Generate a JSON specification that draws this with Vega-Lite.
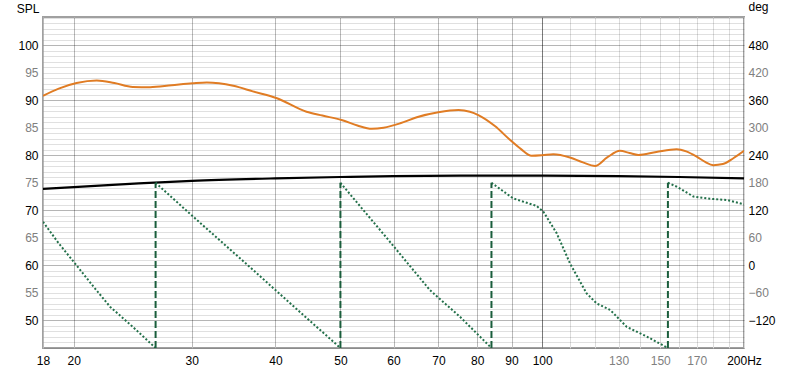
{
  "$schema": "https://vega.github.io/schema/vega-lite/v6.json",
  "width": 701,
  "height": 331,
  "autosize": {"type": "none"},
  "padding": {"left": 43, "top": 17, "right": 56, "bottom": 24},
  "background": "white",
  "config": {
    "view": {"stroke": "#a0a0a0", "strokeWidth": 2},
    "axis": {"labelFont": "Liberation Sans", "titleFont": "Liberation Sans", "labelFontSize": 12, "titleFontSize": 12, "titleFontWeight": "normal", "titleColor": "#000"}
  },
  "datasets": {
    "spl": [
      {"s": "spl", "f": 18, "db": 90.8}, {"s": "spl", "f": 19, "db": 92.1}, {"s": "spl", "f": 20.2, "db": 93.1},
      {"s": "spl", "f": 21.65, "db": 93.55}, {"s": "spl", "f": 23, "db": 93.1}, {"s": "spl", "f": 24.5, "db": 92.4},
      {"s": "spl", "f": 26, "db": 92.35}, {"s": "spl", "f": 28, "db": 92.7}, {"s": "spl", "f": 30.1, "db": 93.05},
      {"s": "spl", "f": 31.6, "db": 93.2}, {"s": "spl", "f": 34.6, "db": 92.6}, {"s": "spl", "f": 37, "db": 91.6},
      {"s": "spl", "f": 40.2, "db": 90.35}, {"s": "spl", "f": 44.5, "db": 87.9}, {"s": "spl", "f": 47, "db": 87.2},
      {"s": "spl", "f": 50.2, "db": 86.4}, {"s": "spl", "f": 53, "db": 85.4}, {"s": "spl", "f": 55.7, "db": 84.8},
      {"s": "spl", "f": 58, "db": 85.0}, {"s": "spl", "f": 61.4, "db": 85.8}, {"s": "spl", "f": 65, "db": 86.9},
      {"s": "spl", "f": 70, "db": 87.8}, {"s": "spl", "f": 75, "db": 88.2}, {"s": "spl", "f": 78, "db": 87.9},
      {"s": "spl", "f": 80.3, "db": 87.3}, {"s": "spl", "f": 85, "db": 85.3}, {"s": "spl", "f": 89.5, "db": 82.8},
      {"s": "spl", "f": 93, "db": 81.1}, {"s": "spl", "f": 96.4, "db": 79.9}, {"s": "spl", "f": 100, "db": 80.0},
      {"s": "spl", "f": 103.9, "db": 80.2}, {"s": "spl", "f": 110, "db": 79.6}, {"s": "spl", "f": 115, "db": 78.7},
      {"s": "spl", "f": 119.9, "db": 78.05}, {"s": "spl", "f": 125, "db": 79.6}, {"s": "spl", "f": 130.6, "db": 80.8},
      {"s": "spl", "f": 135, "db": 80.4}, {"s": "spl", "f": 139.1, "db": 80.05}, {"s": "spl", "f": 148, "db": 80.6},
      {"s": "spl", "f": 158.7, "db": 81.1}, {"s": "spl", "f": 164, "db": 80.7}, {"s": "spl", "f": 170, "db": 79.75},
      {"s": "spl", "f": 175, "db": 78.8}, {"s": "spl", "f": 180, "db": 78.2}, {"s": "spl", "f": 186, "db": 78.4},
      {"s": "spl", "f": 192.8, "db": 79.45}, {"s": "spl", "f": 200, "db": 80.8},
      {"s": "ref", "f": 18, "db": 73.9}, {"s": "ref", "f": 20, "db": 74.2}, {"s": "ref", "f": 25, "db": 74.9},
      {"s": "ref", "f": 30, "db": 75.35}, {"s": "ref", "f": 40, "db": 75.8}, {"s": "ref", "f": 50, "db": 76.05},
      {"s": "ref", "f": 60, "db": 76.2}, {"s": "ref", "f": 80, "db": 76.3}, {"s": "ref", "f": 100, "db": 76.3},
      {"s": "ref", "f": 130, "db": 76.2}, {"s": "ref", "f": 160, "db": 76.05}, {"s": "ref", "f": 200, "db": 75.8}
    ],
    "phase": [
      {"seg": 1, "f": 18, "deg": 95}, {"seg": 1, "f": 19, "deg": 48}, {"seg": 1, "f": 20.2, "deg": 0},
      {"seg": 1, "f": 21.4, "deg": -46}, {"seg": 1, "f": 22.66, "deg": -90}, {"seg": 1, "f": 24.55, "deg": -135},
      {"seg": 1, "f": 26.5, "deg": -180},
      {"seg": 2, "f": 26.5, "deg": 180}, {"seg": 2, "f": 30, "deg": 109}, {"seg": 2, "f": 36.4, "deg": 0},
      {"seg": 2, "f": 43, "deg": -95}, {"seg": 2, "f": 50, "deg": -180},
      {"seg": 3, "f": 50, "deg": 180}, {"seg": 3, "f": 58.3, "deg": 64}, {"seg": 3, "f": 68, "deg": -54},
      {"seg": 3, "f": 75.4, "deg": -112}, {"seg": 3, "f": 84, "deg": -180},
      {"seg": 4, "f": 84, "deg": 180}, {"seg": 4, "f": 90.5, "deg": 146}, {"seg": 4, "f": 98.1, "deg": 129.5},
      {"seg": 4, "f": 100.4, "deg": 117}, {"seg": 4, "f": 105.1, "deg": 70}, {"seg": 4, "f": 110, "deg": 4.6},
      {"seg": 4, "f": 116.5, "deg": -61}, {"seg": 4, "f": 120.6, "deg": -83}, {"seg": 4, "f": 126.3, "deg": -97},
      {"seg": 4, "f": 133.7, "deg": -134}, {"seg": 4, "f": 143.2, "deg": -155}, {"seg": 4, "f": 154, "deg": -180},
      {"seg": 5, "f": 154, "deg": 180}, {"seg": 5, "f": 158.7, "deg": 171.5}, {"seg": 5, "f": 168.1, "deg": 150},
      {"seg": 5, "f": 178, "deg": 145}, {"seg": 5, "f": 188.5, "deg": 142.6}, {"seg": 5, "f": 200, "deg": 133}
    ],
    "wraps": [
      {"f": 26.5, "deg": -180, "deg2": 180}, {"f": 50, "deg": -180, "deg2": 180},
      {"f": 84, "deg": -180, "deg2": 180}, {"f": 154, "deg": -180, "deg2": 180}
    ]
  },
  "encoding": {
    "x": {
      "field": "f", "type": "quantitative",
      "scale": {"type": "log", "domain": [18, 200], "nice": false},
      "axis": {
        "title": null,
        "values": [18, 20, 30, 40, 50, 60, 70, 80, 90, 100, 110, 120, 130, 140, 150, 160, 170, 180, 190, 200],
        "format": "d",
        "labelExpr": "datum.value == 200 ? '200Hz' : (indexof([18,20,30,40,50,60,70,80,90,100,130,150,170], datum.value) >= 0 ? datum.label : '')",
        "labelColor": {"condition": {"test": "datum.value > 100 && datum.value < 200", "value": "#808080"}, "value": "#000000"},
        "labelOverlap": false,
        "labelFlush": false,
        "labelPadding": 7,
        "ticks": false,
        "domain": false,
        "grid": true,
        "gridColor": {"condition": [{"test": "datum.value == 100", "value": "#7a7a7a"}, {"test": "datum.value > 100", "value": "#dcdcdc"}], "value": "#bababa"},
        "gridWidth": 1
      }
    }
  },
  "layer": [
    {
      "data": {"name": "spl"},
      "encoding": {
        "y": {
          "field": "db", "type": "quantitative",
          "scale": {"domain": [45, 105.1], "nice": false, "zero": false},
          "axis": {
            "title": "SPL", "titleAngle": 0, "titleAlign": "right", "titleBaseline": "alphabetic", "titleX": -4, "titleY": -5,
            "values": [45,46,47,48,49,50,51,52,53,54,55,56,57,58,59,60,61,62,63,64,65,66,67,68,69,70,71,72,73,74,75,76,77,78,79,80,81,82,83,84,85,86,87,88,89,90,91,92,93,94,95,96,97,98,99,100,101,102,103,104,105],
            "format": "d",
            "labelExpr": "(datum.value % 5 == 0 && datum.value >= 50 && datum.value <= 100) ? datum.label : ''",
            "labelColor": {"condition": {"test": "datum.value % 10 == 0", "value": "#000000"}, "value": "#808080"},
            "labelOverlap": false,
            "labelFlush": false,
            "labelPadding": 5,
            "ticks": false,
            "domain": false,
            "grid": true,
            "gridColor": "#000000",
            "gridOpacity": {"condition": {"test": "datum.value % 10 == 0", "value": 0.29}, "value": 0.12},
            "gridWidth": 1
          }
        }
      },
      "layer": [
        {"transform": [{"filter": "datum.s == 'ref'"}], "mark": {"type": "line", "color": "#000000", "strokeWidth": 2.2, "interpolate": "monotone", "clip": true}},
        {"transform": [{"filter": "datum.s == 'spl'"}], "mark": {"type": "line", "color": "#e07c24", "strokeWidth": 2, "interpolate": "monotone", "clip": true}}
      ]
    },
    {
      "encoding": {
        "y": {
          "field": "deg", "type": "quantitative",
          "scale": {"domain": [-180, 541.2], "nice": false, "zero": false},
          "axis": {
            "orient": "right",
            "title": "deg", "titleAngle": 0, "titleAlign": "left", "titleBaseline": "alphabetic", "titleX": 4, "titleY": -7,
            "values": [-180, -120, -60, 0, 60, 120, 180, 240, 300, 360, 420, 480, 540],
            "format": "d",
            "labelExpr": "(datum.value >= -120 && datum.value <= 480) ? datum.label : ''",
            "labelColor": {"condition": {"test": "datum.value % 120 == 0", "value": "#000000"}, "value": "#808080"},
            "labelOverlap": false,
            "labelFlush": false,
            "labelPadding": 4,
            "ticks": false,
            "domain": false,
            "grid": false
          }
        }
      },
      "layer": [
        {"data": {"name": "phase"}, "mark": {"type": "line", "color": "#23704a", "strokeWidth": 2, "strokeDash": [2, 2], "clip": true}, "encoding": {"detail": {"field": "seg"}}},
        {"data": {"name": "wraps"}, "mark": {"type": "rule", "color": "#1a5e3c", "strokeWidth": 2, "strokeDash": [7, 3], "clip": true}, "encoding": {"y2": {"field": "deg2"}}}
      ]
    }
  ],
  "resolve": {"scale": {"y": "independent"}}
}
